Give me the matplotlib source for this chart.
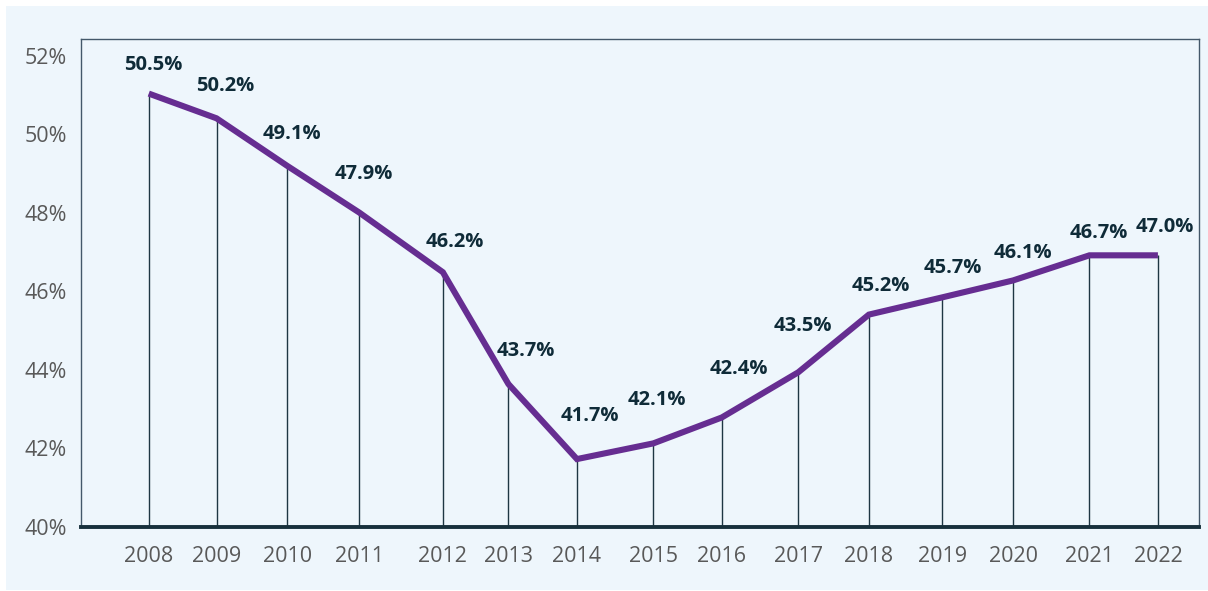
import numpy as np
import matplotlib.pyplot as plt
from matplotlib.patches import Rectangle

# years and their (slightly uneven) positions along the axis
years = [2008, 2009, 2010, 2011, 2012, 2013, 2014, 2015,
         2016, 2017, 2018, 2019, 2020, 2021, 2022]
x_pos = [2008.0, 2008.94, 2009.92, 2010.92, 2012.08, 2012.99, 2013.94, 2015.0,
         2015.95, 2017.01, 2017.99, 2019.01, 2019.99, 2021.05, 2022.0]
# line values as drawn (percent)
share = [51.04, 50.41, 49.20, 48.01, 46.49, 43.64, 41.73, 42.13,
         42.79, 43.94, 45.41, 45.85, 46.28, 46.92, 46.92]
# printed labels
labels = ["50.5%", "50.2%", "49.1%", "47.9%", "46.2%", "43.7%", "41.7%", "42.1%",
          "42.4%", "43.5%", "45.2%", "45.7%", "46.1%", "46.7%", "47.0%"]
y_ticks = [40, 42, 44, 46, 48, 50, 52]

# label offsets from the point, in pixels (dx, dy)
label_off = [(4, 29), (9, 32), (5, 32), (5, 39), (12, 30), (17, 33), (13, 43), (4, 43),
             (17, 48), (5, 46), (12, 29), (10, 29), (10, 27), (9, 22), (7, 28)]

W, H = 1208, 591
fig = plt.figure(figsize=(W / 100, H / 100), dpi=100)
fig.patch.set_facecolor("white")
bg = "#EEF6FC"
fig.patches.append(Rectangle((6 / W, 1 / H), 1 - 6 / W, 1 - 7 / H,
                             transform=fig.transFigure, facecolor=bg,
                             edgecolor="none", zorder=-10))

ax = fig.add_axes([81 / W, 1 - 527 / H, (1199 - 81) / W, (527 - 39) / H])
ax.set_facecolor(bg)

ax.vlines(x_pos, 40, share, color="#1E3643", lw=1.0, zorder=2)
ax.plot(x_pos, share, color="#662D91", lw=4.4, solid_capstyle="butt",
        solid_joinstyle="miter", zorder=3)

for x, y, lab, (dx, dy) in zip(x_pos, share, labels, label_off):
    ax.annotate(lab, (x, y), xytext=(dx, dy), textcoords="offset pixels",
                ha="center", va="center", fontsize=14.5, fontweight="bold",
                family="Open Sans", color="#0F2B38", zorder=4)

ax.set_xlim(2007.06, 2022.57)
ax.set_ylim(40, 52.43)
ax.set_xticks(x_pos)
ax.set_xticklabels([str(y) for y in years])
ax.set_yticks(y_ticks)
ax.set_yticklabels([f"{v}%" for v in y_ticks])
ax.tick_params(length=0, labelsize=15.5, labelcolor="#595959")
ax.tick_params(axis="x", pad=14)
ax.tick_params(axis="y", pad=10)
for t in ax.get_xticklabels() + ax.get_yticklabels():
    t.set_family("Open Sans")

for side in ["left", "top", "right"]:
    ax.spines[side].set_color("#44586A")
    ax.spines[side].set_linewidth(1.0)
ax.spines["bottom"].set_color("#17303C")
ax.spines["bottom"].set_linewidth(2.8)

fig.savefig("out.png", dpi=100, facecolor=fig.get_facecolor())
